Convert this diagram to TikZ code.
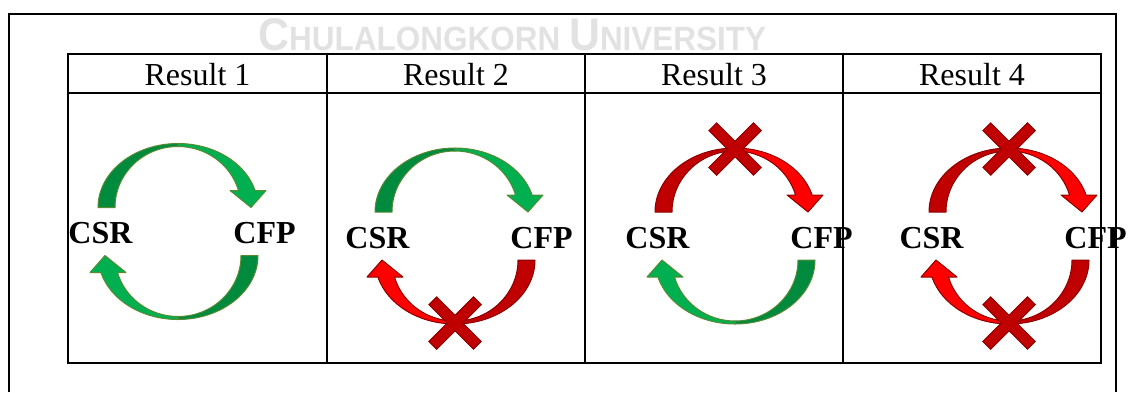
\documentclass[tikz,border=0pt]{standalone}
\usepackage{fontspec}
\setmainfont{Liberation Serif}
\newfontfamily\markfont{Liberation Sans}
\usepackage{graphicx}
\definecolor{okdark}{RGB}{0,138,62}
\definecolor{oklight}{RGB}{0,176,80}
\definecolor{okedge}{RGB}{88,138,50}
\definecolor{nodark}{RGB}{192,0,0}
\definecolor{nolight}{RGB}{255,0,0}
\definecolor{noedge}{RGB}{140,0,0}
\definecolor{markgray}{RGB}{226,226,226}
\tikzset{
  frame/.style={line width=1.6pt},
  tabline/.style={line width=1.6pt},
  head/.style={font=\fontsize{32}{32}\selectfont, inner sep=0pt, anchor=base},
  lbl/.style={font=\fontsize{32}{32}\selectfont\bfseries, inner sep=0pt, anchor=base},
  pics/ringarrow/.style n args={3}{code={
    \filldraw[fill=#1, draw=#3, line width=1pt, line join=round]
      (-80,24) arc[start angle=180, end angle=90, x radius=80pt, y radius=64pt]
      -- (0,85) arc[start angle=90, end angle=180, x radius=63pt, y radius=61pt] -- cycle;
    \filldraw[fill=#2, draw=#3, line width=1pt, line join=round]
      (0,88) arc[start angle=90, end angle=15.4, x radius=80pt, y radius=64pt]
      -- (88,41) -- (73,24) -- (52,41) -- (60.5,41)
      arc[start angle=16.2, end angle=90, x radius=63pt, y radius=61pt] -- cycle;
  }},
  pics/cross/.style={code={
    \filldraw[fill=nodark, draw=noedge, line width=1pt, line join=miter, rotate=45]
      (5.5,5.5) -- (31.5,5.5) -- (31.5,-5.5) -- (5.5,-5.5) -- (5.5,-31.5) -- (-5.5,-31.5)
      -- (-5.5,-5.5) -- (-31.5,-5.5) -- (-31.5,5.5) -- (-5.5,5.5) -- (-5.5,31.5) -- (5.5,31.5) -- cycle;
  }}
}
\begin{document}
\begin{tikzpicture}[x=1pt,y=1pt]
	\useasboundingbox (0,0) rectangle (1135,-392);
	\node[text=markgray, inner sep=0pt, anchor=base west] (mark) at (258,-50)
	  {\resizebox{508pt}{32pt}{\markfont\bfseries{\fontsize{32}{32}\selectfont C}\fontsize{23.5}{24}\selectfont HULALONGKORN {\fontsize{32}{32}\selectfont U}NIVERSITY}};
	\draw[frame] (9,-392)--(9,-14)--(1116,-14)--(1116,-392);
	
	\draw[tabline] (68,-54) rectangle (1101,-363);
	\draw[tabline] (68,-93)--(1101,-93);
	\draw[tabline] (327,-54)--(327,-363);
	\draw[tabline] (585,-54)--(585,-363);
	\draw[tabline] (843,-54)--(843,-363);
	
	\node[head] (res1) at (197.5,-85) {Result 1};
	\node[head] (res2) at (456,-85) {Result 2};
	\node[head] (res3) at (714,-85) {Result 3};
	\node[head] (res4) at (972,-85) {Result 4};
	
	\coordinate (r1) at (178,-231.5);
	\coordinate (r2) at (455,-236);
	\coordinate (r3) at (735,-236);
	\coordinate (r4) at (1009,-236);
	
	\node[lbl] (csr1) at ([shift={(-77.5,-12)}]r1) {CSR};
	\node[lbl] (cfp1) at ([shift={(86.5,-12)}]r1) {CFP};
	\node[lbl] (csr2) at ([shift={(-77.5,-12)}]r2) {CSR};
	\node[lbl] (cfp2) at ([shift={(86.5,-12)}]r2) {CFP};
	\node[lbl] (csr3) at ([shift={(-77.5,-12)}]r3) {CSR};
	\node[lbl] (cfp3) at ([shift={(86.5,-12)}]r3) {CFP};
	\node[lbl] (csr4) at ([shift={(-77.5,-12)}]r4) {CSR};
	\node[lbl] (cfp4) at ([shift={(86.5,-12)}]r4) {CFP};
	
	\pic at (r1) {ringarrow={okdark}{oklight}{okedge}};
	\pic[rotate=180] at (r1) {ringarrow={okdark}{oklight}{okedge}};
	
	\pic at (r2) {ringarrow={okdark}{oklight}{okedge}};
	\pic[rotate=180] at (r2) {ringarrow={nodark}{nolight}{noedge}};
	\pic at ([yshift=-87pt]r2) {cross};
	
	\pic at (r3) {ringarrow={nodark}{nolight}{noedge}};
	\pic[rotate=180] at (r3) {ringarrow={okdark}{oklight}{okedge}};
	\pic at ([yshift=87pt]r3) {cross};
	
	\pic at (r4) {ringarrow={nodark}{nolight}{noedge}};
	\pic[rotate=180] at (r4) {ringarrow={nodark}{nolight}{noedge}};
	\pic at ([yshift=87pt]r4) {cross};
	\pic at ([yshift=-87pt]r4) {cross};
	
\end{tikzpicture}
\end{document}
